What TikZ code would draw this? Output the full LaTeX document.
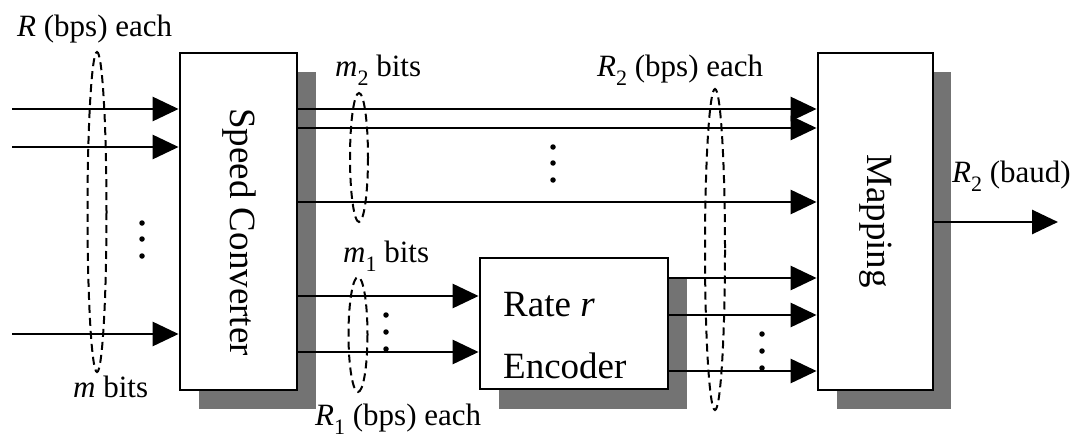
\documentclass[tikz,border=0pt]{standalone}
\usepackage{fontspec}
\setmainfont{Liberation Serif}
\usetikzlibrary{arrows.meta,calc}
\newcommand\lowidx[1]{\raisebox{-0.28em}{\fontsize{22}{22}\selectfont #1}}
\tikzset{
  block/.style={draw=black, line width=2.8pt, fill=white, inner sep=0pt},
  shade/.style={fill=black!55},
  arr/.style={line width=2.8pt, -{Triangle[length=26pt,width=24pt]}},
  grp/.style={draw=black, line width=2pt, dash pattern=on 8pt off 5pt},
  big/.style={font=\fontsize{37}{44}\selectfont, inner sep=0pt},
  lbl/.style={font=\fontsize{31}{36}\selectfont, inner sep=0pt},
  dot/.style={fill=black, circle, inner sep=0pt, minimum size=5.5pt}
}
\begin{document}
\begin{tikzpicture}[x=1pt,y=-1pt]
\useasboundingbox (0,0) rectangle (1077,439);

% shadows behind the three blocks
\fill[shade] (199,72) rectangle (316,409);
\fill[shade] (499,278) rectangle (687,409);
\fill[shade] (837,72) rectangle (951,409);

% blocks
\node[block, minimum width=117pt, minimum height=337pt] (sc) at (238.5,221.5) {};
\node[block, minimum width=188pt, minimum height=131pt] (enc) at (574,323.5) {};
\node[block, minimum width=115pt, minimum height=337pt] (map) at (875.5,221.5) {};

\node[big, rotate=-90] (sctxt) at (239,232) {Speed Converter};
\node[big, rotate=-90] (maptxt) at (876,221) {Mapping};
\node[big, anchor=west] (rate) at (503,305) {Rate \textit{r}};
\node[big, anchor=west] (encname) at (503,366) {Encoder};

% inputs to the speed converter
\coordinate (in1) at (12,109);
\coordinate (in2) at (12,147);
\coordinate (in3) at (12,334);
\draw[arr] (in1) -- (in1 -| sc.west);
\draw[arr] (in2) -- (in2 -| sc.west);
\draw[arr] (in3) -- (in3 -| sc.west);
\node[dot] (d1) at (142,223) {};
\node[dot] (d2) at (142,239) {};
\node[dot] (d3) at (142,256) {};

% uncoded bits straight to the mapper
\coordinate (u1) at (297,109);
\coordinate (u2) at (297,128);
\coordinate (u3) at (297,202);
\draw[arr] (u1 -| sc.east) -- (u1 -| map.west);
\draw[arr] (u2 -| sc.east) -- (u2 -| map.west);
\draw[arr] (u3 -| sc.east) -- (u3 -| map.west);
\node[dot] (d4) at (553,147) {};
\node[dot] (d5) at (553,163) {};
\node[dot] (d6) at (553,180) {};

% coded bits into the encoder
\coordinate (c1) at (297,296);
\coordinate (c2) at (297,352);
\draw[arr] (c1 -| sc.east) -- (c1 -| enc.west);
\draw[arr] (c2 -| sc.east) -- (c2 -| enc.west);
\node[dot] (d7) at (386,315) {};
\node[dot] (d8) at (386,332) {};
\node[dot] (d9) at (386,349) {};

% encoder outputs to the mapper
\coordinate (e1) at (668,278);
\coordinate (e2) at (668,315);
\coordinate (e3) at (668,371);
\draw[arr] (e1 -| enc.east) -- (e1 -| map.west);
\draw[arr] (e2 -| enc.east) -- (e2 -| map.west);
\draw[arr] (e3 -| enc.east) -- (e3 -| map.west);
\node[dot] (d10) at (762,334) {};
\node[dot] (d11) at (762,351) {};
\node[dot] (d12) at (762,368) {};

% mapper output
\coordinate (out) at (1058,222);
\draw[arr] (map.east |- out) -- (out);

% grouping ellipses
\draw[grp] (97,212) ellipse [x radius=9.5, y radius=160];
\draw[grp] (359,157.5) ellipse [x radius=9, y radius=64.5];
\draw[grp] (358,334.5) ellipse [x radius=9.5, y radius=57.5];
\draw[grp] (715,249.5) ellipse [x radius=10, y radius=160.5];

% labels
\node[lbl, anchor=west] (l1) at (17,29) {\textit{R} (bps) each};
\node[lbl, anchor=west] (l2) at (73,387) {\textit{m} bits};
\node[lbl, anchor=west] (l3) at (335,70) {\textit{m}\lowidx{2} bits};
\node[lbl, anchor=west] (l4) at (343,256) {\textit{m}\lowidx{1} bits};
\node[lbl, anchor=west] (l5) at (315,419) {\textit{R}\lowidx{1} (bps) each};
\node[lbl, anchor=west] (l6) at (597,70) {\textit{R}\lowidx{2} (bps) each};
\node[lbl, anchor=west] (l7) at (952,176) {\textit{R}\lowidx{2} (baud)};
\end{tikzpicture}
\end{document}
